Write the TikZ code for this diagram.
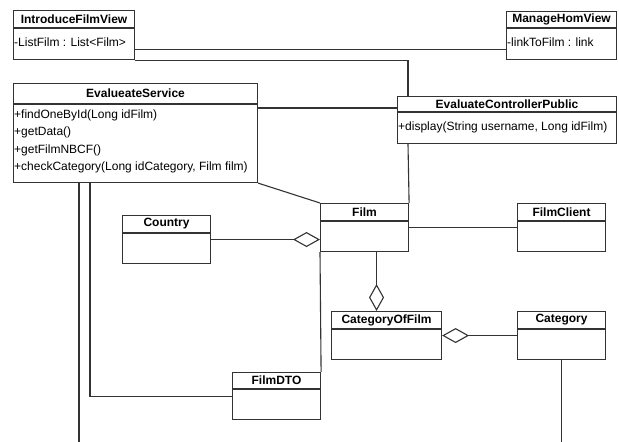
\documentclass[tikz,border=0pt]{standalone}
\usepackage{fontspec}
\setmainfont{Liberation Sans}
\usetikzlibrary{arrows.meta}
\definecolor{umlgray}{HTML}{333333}

\tikzset{
  classbox/.style={draw=umlgray, fill=white, line width=1.1pt, inner sep=0pt, anchor=north west},
  classname/.style={font=\fontsize{12}{14}\selectfont\bfseries, inner sep=0pt},
  member/.style={font=\fontsize{12}{14}\selectfont, anchor=west, inner sep=1pt},
  sepline/.style={draw=umlgray, line width=1.1pt},
  assoc/.style={draw=umlgray, line width=1.1pt},
  aggr/.style={assoc, -{Diamond[open,length=27pt,width=15pt]}}
}

\begin{document}
\begin{tikzpicture}[x=1pt,y=-1pt]
  \useasboundingbox (0,0) rectangle (619,442);

  %view classes
  \node[classbox, minimum width=121pt, minimum height=49pt] (ifv) at (13,10) {};
  \draw[sepline] ([yshift=-18pt]ifv.north west) -- ([yshift=-18pt]ifv.north east);
  \node[classname] (ifvname) at ([yshift=-9pt]ifv.north) {IntroduceFilmView};
  \node[member] (ifvattr) at ([yshift=-32pt]ifv.north west) {-ListFilm : List<Film>};

  \node[classbox, minimum width=110pt, minimum height=48pt] (mhv) at (506,11) {};
  \draw[sepline] ([yshift=-17pt]mhv.north west) -- ([yshift=-17pt]mhv.north east);
  \node[classname] (mhvname) at ([yshift=-8.5pt]mhv.north) {ManageHomView};
  \node[member] (mhvattr) at ([yshift=-31pt]mhv.north west) {-linkToFilm : link};

  %service and controller
  \node[classbox, minimum width=244pt, minimum height=99pt] (es) at (13,83) {};
  \draw[sepline] ([yshift=-21pt]es.north west) -- ([yshift=-21pt]es.north east);
  \node[classname] (esname) at ([yshift=-10.5pt]es.north) {EvalueateService};
  \node[member] (esop1) at ([yshift=-32pt]es.north west) {+findOneById(Long idFilm)};
  \node[member] (esop2) at ([yshift=-49.5pt]es.north west) {+getData()};
  \node[member] (esop3) at ([yshift=-67pt]es.north west) {+getFilmNBCF()};
  \node[member] (esop4) at ([yshift=-84.5pt]es.north west) {+checkCategory(Long idCategory, Film film)};

  \node[classbox, minimum width=219pt, minimum height=47pt] (ecp) at (397,96) {};
  \draw[sepline] ([yshift=-16pt]ecp.north west) -- ([yshift=-16pt]ecp.north east);
  \node[classname] (ecpname) at ([yshift=-8pt]ecp.north) {EvaluateControllerPublic};
  \node[member] (ecpop) at ([yshift=-31pt]ecp.north west) {+display(String username, Long idFilm)};

  %entity classes
  \node[classbox, minimum width=88pt, minimum height=48pt] (film) at (320,203) {};
  \draw[sepline] ([yshift=-18pt]film.north west) -- ([yshift=-18pt]film.north east);
  \node[classname] (filmname) at ([yshift=-9pt]film.north) {Film};

  \node[classbox, minimum width=88pt, minimum height=48pt] (country) at (122,215) {};
  \draw[sepline] ([yshift=-18pt]country.north west) -- ([yshift=-18pt]country.north east);
  \node[classname] (countryname) at ([yshift=-9pt]country.north) {Country};

  \node[classbox, minimum width=88pt, minimum height=48pt] (fc) at (517,203) {};
  \draw[sepline] ([yshift=-18pt]fc.north west) -- ([yshift=-18pt]fc.north east);
  \node[classname] (fcname) at ([yshift=-9pt]fc.north) {FilmClient};

  \node[classbox, minimum width=110pt, minimum height=48pt] (cof) at (331,311) {};
  \draw[sepline] ([yshift=-18pt]cof.north west) -- ([yshift=-18pt]cof.north east);
  \node[classname] (cofname) at ([yshift=-9pt]cof.north) {CategoryOfFilm};

  \node[classbox, minimum width=88pt, minimum height=48pt] (cat) at (517,311) {};
  \draw[sepline] ([yshift=-18pt]cat.north west) -- ([yshift=-18pt]cat.north east);
  \node[classname] (catname) at ([yshift=-9pt]cat.north) {Category};

  \node[classbox, minimum width=88pt, minimum height=47pt] (fdto) at (232,372) {};
  \draw[sepline] ([yshift=-17pt]fdto.north west) -- ([yshift=-17pt]fdto.north east);
  \node[classname] (fdtoname) at ([yshift=-8.5pt]fdto.north) {FilmDTO};

  %connectors
  \coordinate (esend) at (79,442);
  \coordinate (catend) at (562,442);

  \draw[assoc] ([yshift=11pt]ifv.south east) -- ([yshift=11pt]mhv.south west);
  \draw[assoc] (ifv.south east) -| ([xshift=11pt]ecp.north west);
  \draw[assoc] ([yshift=-25pt]es.north east) -- ([yshift=-12pt]ecp.north west);
  \draw[assoc] ([xshift=11pt]ecp.south west) -- (film.north east);
  \draw[assoc] (es.south east) -- (film.north west);
  \draw[aggr] (country.east) -- (country.east -| film.west);
  \draw[assoc] (film.east) -- (fc.west);
  \draw[aggr] ([xshift=12pt]film.south) -- ([xshift=-10pt]cof.north);
  \draw[aggr] (cat.west) -- (cof.east);
  \draw[assoc] (cat.south) -- (cat.south |- catend);
  \draw[assoc] (film.south west) -- (fdto.north east);
  \draw[assoc] ([xshift=77pt]es.south west) |- (fdto.west);
  \draw[assoc] ([xshift=66pt]es.south west) -- (esend);

\end{tikzpicture}
\end{document}
